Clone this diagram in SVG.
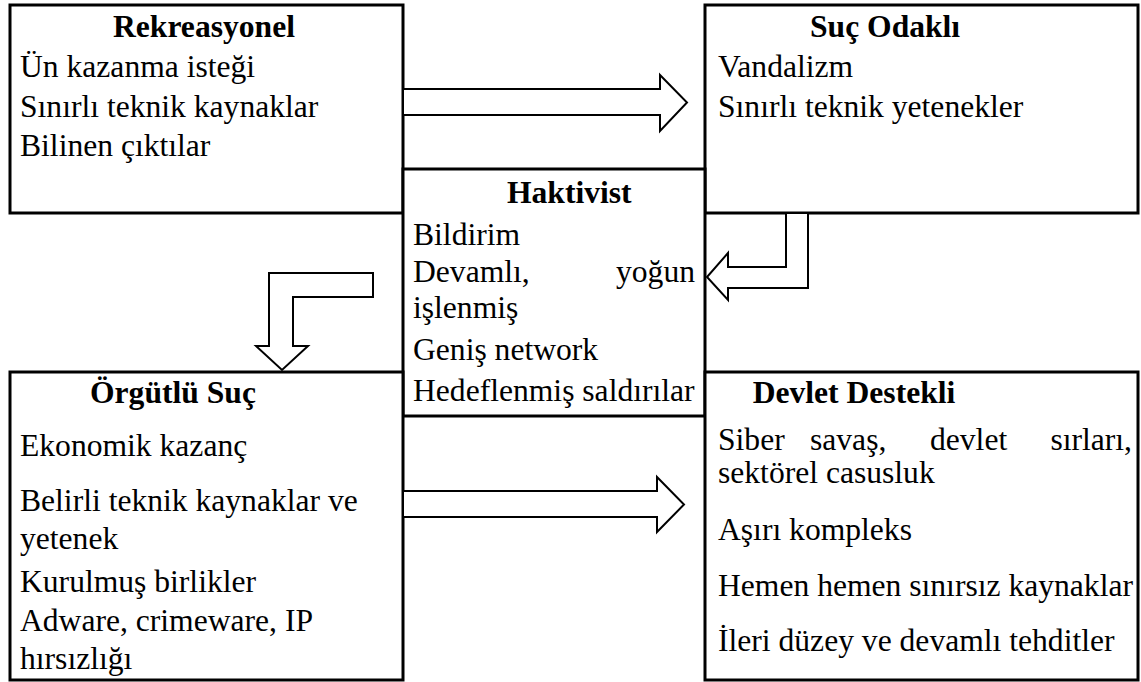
<svg xmlns="http://www.w3.org/2000/svg" width="1141" height="682" viewBox="0 0 1141 682">
  <style>
    .box { fill: #ffffff; stroke: #000000; stroke-width: 3; }
    .arrow { fill: #ffffff; stroke: #000000; stroke-width: 2; stroke-linejoin: miter; }
    text { font-family: "Liberation Serif", "Times New Roman", serif; font-size: 31.6px; fill: #000000; }
    .title { font-weight: bold; }
  </style>
  <rect x="0" y="0" width="1141" height="682" fill="#ffffff"/>

  <g id="node-rekreasyonel">
    <rect class="box" x="10" y="5" width="393" height="208"/>
    <text class="title" x="113" y="37">Rekreasyonel</text>
    <text x="20" y="77">Ün kazanma isteği</text>
    <text x="20" y="117">Sınırlı teknik kaynaklar</text>
    <text x="20" y="156">Bilinen çıktılar</text>
  </g>

  <g id="node-suc-odakli">
    <rect class="box" x="705" y="5" width="433" height="208"/>
    <text class="title" x="810" y="37">Suç Odaklı</text>
    <text x="718" y="77">Vandalizm</text>
    <text x="718" y="117">Sınırlı teknik yetenekler</text>
  </g>

  <g id="node-haktivist">
    <rect class="box" x="403" y="169" width="302" height="247"/>
    <text class="title" x="507" y="203">Haktivist</text>
    <text x="413" y="245">Bildirim</text>
    <text x="413" y="282">Devamlı,</text>
    <text x="695" y="282" text-anchor="end">yoğun</text>
    <text x="413" y="318">işlenmiş</text>
    <text x="413" y="360">Geniş network</text>
    <text x="413" y="401">Hedeflenmiş saldırılar</text>
  </g>

  <g id="node-orgutlu-suc">
    <rect class="box" x="10" y="372" width="393" height="308"/>
    <text class="title" x="90" y="403">Örgütlü Suç</text>
    <text x="20" y="456">Ekonomik kazanç</text>
    <text x="20" y="511">Belirli teknik kaynaklar ve</text>
    <text x="20" y="549">yetenek</text>
    <text x="20" y="592">Kurulmuş birlikler</text>
    <text x="20" y="631">Adware, crimeware, IP</text>
    <text x="20" y="669">hırsızlığı</text>
  </g>

  <g id="node-devlet-destekli">
    <rect class="box" x="705" y="372" width="433" height="308"/>
    <text class="title" x="854" y="403" text-anchor="middle">Devlet Destekli</text>
    <text x="718" y="450">Siber</text>
    <text x="810" y="450">savaş,</text>
    <text x="930" y="450">devlet</text>
    <text x="1132" y="450" text-anchor="end">sırları,</text>
    <text x="718" y="483">sektörel casusluk</text>
    <text x="718" y="540">Aşırı kompleks</text>
    <text x="718" y="596">Hemen hemen sınırsız kaynaklar</text>
    <text x="718" y="651">İleri düzey ve devamlı tehditler</text>
  </g>

  <g id="connectors">
    <!-- Rekreasyonel to Suç Odaklı -->
    <polygon class="arrow" points="403,89 660,89 660,75 687,102.5 660,131 660,115 403,115"/>
    <!-- Suç Odaklı to Haktivist (bent) -->
    <polygon class="arrow" points="786,213 786,267 728,267 728,253 707,277 728,300 728,288 808,288 808,213"/>
    <!-- Haktivist to Örgütlü Suç (bent) -->
    <polygon class="arrow" points="269,273 373,273 373,297 293,297 293,346 308,346 282,370 256,346 269,346"/>
    <!-- Örgütlü Suç to Devlet Destekli -->
    <polygon class="arrow" points="403,491 657,491 657,477 684,504.5 657,532 657,517 403,517"/>
  </g>
</svg>
